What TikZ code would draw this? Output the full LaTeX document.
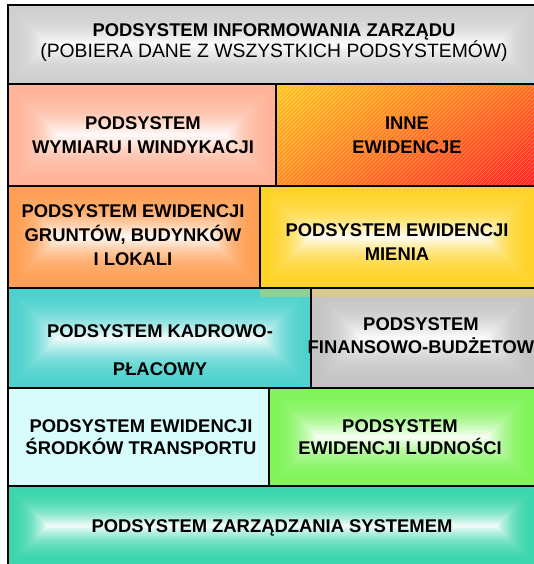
\documentclass[tikz,border=0pt]{standalone}
\usepackage{fontspec}
\setmainfont{Liberation Sans}
\usetikzlibrary{patterns,shadings}
\definecolor{grayrim}{HTML}{CFCFCF}
\definecolor{salmonrim}{HTML}{FFB49A}
\definecolor{apricotrim}{HTML}{FF9F55}
\definecolor{sunnyrim}{HTML}{FFD42A}
\definecolor{tealrim}{HTML}{4FD2CE}
\definecolor{silverrim}{HTML}{C4C4C4}
\definecolor{icecyan}{HTML}{D8FCFC}
\definecolor{limerim}{HTML}{80F45A}
\definecolor{jaderim}{HTML}{3CD6AC}
\definecolor{fireTL}{HTML}{FFC820}
\definecolor{fireTR}{HTML}{FF6E1E}
\definecolor{fireBL}{HTML}{FF8C20}
\definecolor{fireBR}{HTML}{FF2020}
\newcommand{\gradbox}[5]{%
  \foreach \band [evaluate=\band as \ins using \band*(#4-#2)/50,
                  evaluate=\band as \pct using int(100*(\band/25)^2.2)] in {0,...,25}
    \fill[white!\pct!#5] ({#1+\ins},{#2+\ins}) rectangle ({#3-\ins},{#4-\ins});%
}
\tikzset{
  lbl/.style={font=\bfseries\fontsize{13.8}{17.8}\selectfont, align=center},
  boxline/.style={draw=black, line width=1.5pt}
}
\begin{document}
\begin{tikzpicture}[x=0.75pt, y=-0.75pt]
  \useasboundingbox (0,0) rectangle (534,564);
  \clip (0,0) rectangle (534,564);
  \gradbox{8}{5}{536}{84}{grayrim}
  \gradbox{8}{84}{276}{186}{salmonrim}
  \shade[upper left=fireTL, upper right=fireTR, lower left=fireBL, lower right=fireBR]
        (276,84) rectangle (536,186);
  \fill[pattern=north east lines, pattern color=white, opacity=0.3] (276,84) rectangle (536,186);
  \gradbox{8}{186}{260}{288}{apricotrim}
  \gradbox{260}{186}{536}{288}{sunnyrim}
  \gradbox{8}{288}{311}{388}{tealrim}
  \gradbox{311}{288}{536}{388}{silverrim}
  \fill[sunnyrim, opacity=0.35] (260,288) rectangle (536,297);
  \fill[icecyan] (8,388) rectangle (269,486);
  \gradbox{269}{388}{536}{486}{limerim}
  \gradbox{8}{486}{536}{566}{jaderim}
  \draw[boxline] (8,5) rectangle (536,84);
  \draw[boxline] (8,84) rectangle (276,186);
  \draw[boxline] (276,84) rectangle (536,186);
  \draw[boxline] (8,186) rectangle (260,288);
  \draw[boxline] (260,186) rectangle (536,288);
  \draw[boxline] (8,288) rectangle (311,388);
  \draw[boxline] (311,288) rectangle (536,388);
  \draw[boxline] (8,388) rectangle (269,486);
  \draw[boxline] (269,388) rectangle (536,486);
  \draw[boxline] (8,486) rectangle (536,566);
  \node (zarzad) at (274,43) [lbl, font=\bfseries\fontsize{13.8}{15.8}\selectfont]
    {PODSYSTEM INFORMOWANIA ZARZĄDU\\{\mdseries\fontsize{14.5}{15.8}\selectfont (POBIERA DANE Z WSZYSTKICH PODSYSTEMÓW)}};
  \node (wymiar) at (143,135) [lbl] {PODSYSTEM\\WYMIARU I WINDYKACJI};
  \node (inne) at (407,135) [lbl] {INNE\\EWIDENCJE};
  \node (grunty) at (133,235) [lbl] {PODSYSTEM EWIDENCJI\\GRUNTÓW, BUDYNKÓW\\I LOKALI};
  \node (mienie) at (397,242) [lbl, font=\bfseries\fontsize{13.8}{18.4}\selectfont] {PODSYSTEM EWIDENCJI\\MIENIA};
  \node (kadry) at (160,350) [lbl] {PODSYSTEM KADROWO-\\[10.7pt]PŁACOWY};
  \node (finanse) at (421,336) [lbl, font=\bfseries\fontsize{13.8}{17.3}\selectfont] {PODSYSTEM\\FINANSOWO-BUDŻETOW};
  \node (transport) at (141,437) [lbl, font=\bfseries\fontsize{13.8}{16.5}\selectfont] {PODSYSTEM EWIDENCJI\\ŚRODKÓW TRANSPORTU};
  \node (ludnosc) at (400,437) [lbl, font=\bfseries\fontsize{13.8}{16.5}\selectfont] {PODSYSTEM\\EWIDENCJI LUDNOŚCI};
  \node (system) at (272,528) [lbl] {PODSYSTEM ZARZĄDZANIA SYSTEMEM};
\end{tikzpicture}
\end{document}
